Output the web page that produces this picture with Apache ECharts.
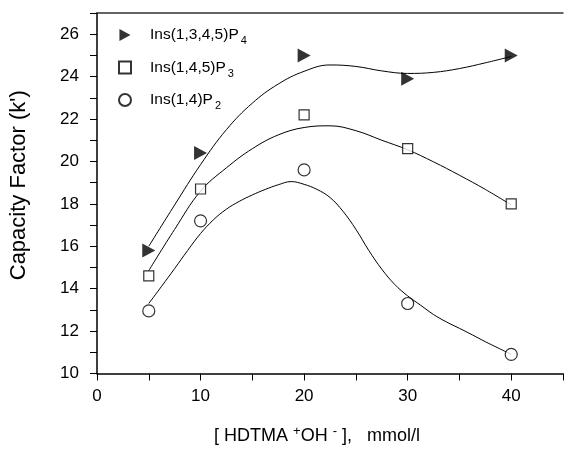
<!DOCTYPE html>
<html>
<head>
<meta charset="utf-8">
<script src="https://cdn.jsdelivr.net/npm/echarts@6/dist/echarts.min.js"></script>
<style>html,body{margin:0;padding:0;background:#fff;}#c{width:566px;height:450px;}</style>
</head>
<body>
<div id="c"></div>
<script>
// Measured points
const xVals = [5, 10, 20, 30, 40];
const p4 = [15.8, 20.4, 25.0, 23.9, 25.0];
const p3 = [14.6, 18.7, 22.2, 20.6, 18.0];
const p2 = [12.95, 17.2, 19.6, 13.3, 10.9];

// Fitted curves
const curveX = [5, 7.5, 10, 12.5, 15, 17.5, 20, 22.5, 25, 27.5, 30, 32.5, 35, 37.5, 40];
const curveP4Y = [16.0, 17.95, 19.85, 21.5, 22.75, 23.65, 24.25, 24.55, 24.48, 24.27, 24.15, 24.2, 24.38, 24.65, 24.95];
const curveP3Y = [14.85, 16.8, 18.6, 19.7, 20.6, 21.25, 21.6, 21.68, 21.45, 21.0, 20.55, 19.98, 19.35, 18.68, 17.95];
const curveP2X = [5, 6.25, 7.5, 8.75, 10, 11.25, 12.5, 13.75, 15, 16.25, 17.5, 18.75, 20, 21.25, 22.5, 23.75, 25,
  26.25, 27.5, 28.75, 30, 31.25, 32.5, 33.75, 35, 36.25, 37.5, 38.75, 40];
const curveP2Y = [13.3, 14.12, 14.95, 15.8, 16.6, 17.25, 17.75, 18.12, 18.42, 18.68, 18.9, 19.05, 18.92, 18.68, 18.3, 17.65, 16.8,
  15.8, 14.92, 14.2, 13.66, 13.22, 12.78, 12.43, 12.13, 11.82, 11.5, 11.2, 10.9];

const seriesNames = ['Ins(1,3,4,5)P4', 'Ins(1,4,5)P3', 'Ins(1,4)P2'];
const legendMain = ['Ins(1,3,4,5)P', 'Ins(1,4,5)P', 'Ins(1,4)P'];
const legendSub = ['4', '3', '2'];

const xTicks = [0, 10, 20, 30, 40];
const yTicks = [10, 12, 14, 16, 18, 20, 22, 24, 26];

const pair = (xs, ys) => xs.map((x, i) => [x, ys[i]]);
const FONT = 'Liberation Sans, Arial, Helvetica, sans-serif';
const triPath = 'path://M0,0L12,6.5L0,13Z';

const chart = echarts.init(document.getElementById('c'));
const curveStyle = {color: '#000', width: 1};
chart.setOption({
  animation: false,
  backgroundColor: '#fff',
  grid: {left: 97, right: 0, top: 13, bottom: 73},
  legend: {
    orient: 'vertical', left: 113, top: 22, itemGap: 13,
    itemWidth: 12, itemHeight: 12,
    data: seriesNames,
    formatter: function (name) {
      const i = seriesNames.indexOf(name);
      return '{a|' + legendMain[i] + '}{s|' + legendSub[i] + '}';
    },
    textStyle: {
      color: '#000', fontFamily: FONT, fontSize: 15,
      rich: {
        a: {fontSize: 15.5, fontFamily: FONT, color: '#000', padding: [0, 0, 0, 14], lineHeight: 20},
        s: {fontSize: 11, fontFamily: FONT, color: '#000', padding: [12, 0, 0, 2]}
      }
    }
  },
  xAxis: [{
    type: 'value', min: 0, max: 45, interval: 5,
    axisLine: {lineStyle: {color: '#000', width: 1.5}},
    axisTick: {show: true, length: 7, lineStyle: {color: '#000', width: 1}},
    axisLabel: {
      color: '#000', fontFamily: FONT, fontSize: 17, margin: 14,
      formatter: v => xTicks.indexOf(v) >= 0 ? String(v) : ''
    },
    splitLine: {show: false},
    name: '[ HDTMA {sup|+}OH {sup|-} ],   mmol/l',
    nameLocation: 'middle', nameGap: 51,
    nameTextStyle: {
      color: '#000', fontFamily: FONT, fontSize: 18, padding: [0, 26, 0, 0],
      rich: {sup: {fontSize: 13, fontFamily: FONT, color: '#000', padding: [0, 0, 10, 0]}}
    }
  }, {
    type: 'value', position: 'top', min: 0, max: 45,
    axisLine: {show: true, lineStyle: {color: '#333', width: 1.5}},
    axisTick: {show: false}, axisLabel: {show: false}, splitLine: {show: false}
  }],
  yAxis: {
    type: 'value', min: 10, max: 27, interval: 1,
    axisLine: {show: true, lineStyle: {color: '#000', width: 1.5}},
    axisTick: {show: true, length: 7, lineStyle: {color: '#000', width: 1}},
    axisLabel: {
      color: '#000', fontFamily: FONT, fontSize: 17, margin: 18,
      formatter: v => yTicks.indexOf(v) >= 0 ? String(v) : ''
    },
    splitLine: {show: false},
    name: "Capacity Factor (k')",
    nameLocation: 'middle', nameGap: 67,
    nameTextStyle: {color: '#000', fontFamily: FONT, fontSize: 22, padding: [0, 0, 0, 16]}
  },
  series: [
    {type: 'line', data: pair(curveX, curveP4Y), smooth: 0.4, showSymbol: false, lineStyle: curveStyle, silent: true, z: 1},
    {type: 'line', data: pair(curveX, curveP3Y), smooth: 0.4, showSymbol: false, lineStyle: curveStyle, silent: true, z: 1},
    {type: 'line', data: pair(curveP2X, curveP2Y), smooth: 0.4, showSymbol: false, lineStyle: curveStyle, silent: true, z: 1},
    {name: seriesNames[0], type: 'scatter', data: pair(xVals, p4), symbol: triPath, symbolSize: [13, 14],
      itemStyle: {color: '#000'}, z: 3},
    {name: seriesNames[1], type: 'scatter', data: pair(xVals, p3), symbol: 'rect', symbolSize: 10,
      itemStyle: {color: '#fff', borderColor: '#000', borderWidth: 1.2}, z: 3},
    {name: seriesNames[2], type: 'scatter', data: pair(xVals, p2), symbol: 'circle', symbolSize: 12,
      itemStyle: {color: '#fff', borderColor: '#000', borderWidth: 1.2}, z: 3}
  ]
});
</script>
</body>
</html>
